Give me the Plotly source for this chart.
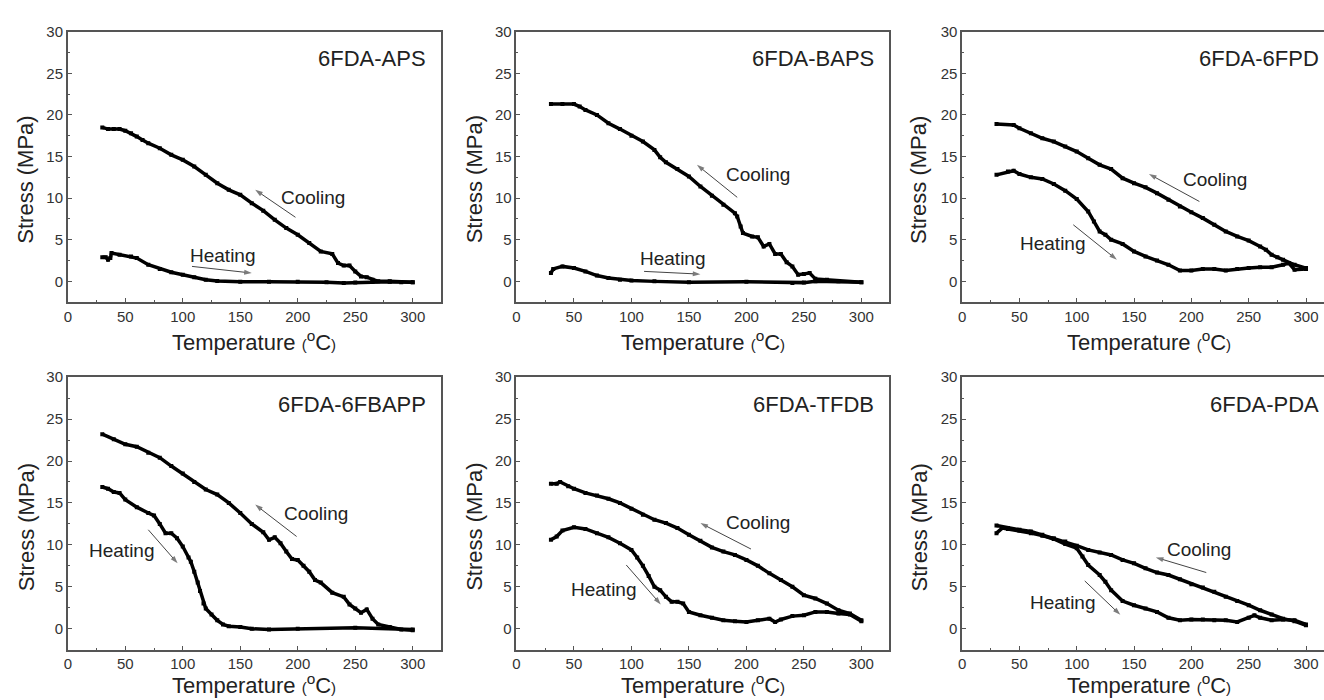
import plotly.graph_objects as go

# ---------------- data ----------------
APS_cool_T = [30, 35, 40, 45, 50, 55, 60, 65, 70, 80, 90, 100, 110, 120, 130, 140, 150, 160, 170, 180, 190, 200, 210, 220, 230, 235, 240, 245, 250, 255, 260, 265, 270, 280, 290, 300]
APS_cool_S = [18.5, 18.3, 18.3, 18.3, 18.1, 17.8, 17.4, 17.0, 16.6, 16.0, 15.2, 14.6, 13.8, 12.8, 11.8, 11.0, 10.4, 9.4, 8.5, 7.4, 6.4, 5.6, 4.6, 3.6, 3.3, 2.2, 1.9, 1.9, 1.2, 0.6, 0.5, 0.2, 0.0, 0.0, -0.1, -0.1]
APS_heat_T = [30, 33, 35, 37, 38, 45, 55, 60, 70, 80, 90, 100, 110, 120, 130, 150, 175, 200, 225, 240, 250, 265, 280, 300]
APS_heat_S = [2.9, 2.9, 2.6, 2.8, 3.4, 3.2, 3.0, 2.8, 2.0, 1.5, 1.1, 0.8, 0.5, 0.2, 0.05, -0.05, -0.05, -0.05, -0.1, -0.2, -0.15, -0.05, -0.05, -0.1]

BAPS_cool_T = [30, 40, 50, 55, 60, 70, 80, 90, 100, 110, 120, 125, 130, 140, 150, 160, 170, 180, 190, 192, 195, 197, 205, 210, 215, 220, 225, 230, 235, 240, 245, 250, 255, 260, 270, 280, 300]
BAPS_cool_S = [21.3, 21.3, 21.3, 21.0, 20.6, 20.0, 19.0, 18.3, 17.5, 16.8, 15.8, 14.9, 14.3, 13.5, 12.6, 11.4, 10.3, 9.2, 8.2, 7.8, 6.6, 5.8, 5.4, 5.3, 4.2, 4.5, 3.3, 3.3, 2.3, 1.8, 0.8, 0.9, 1.0, 0.3, 0.2, 0.0, -0.1]
BAPS_heat_T = [30, 32, 40, 50, 60, 70, 80, 90, 100, 120, 150, 200, 240, 250, 260, 300]
BAPS_heat_S = [1.0, 1.5, 1.8, 1.6, 1.2, 0.7, 0.4, 0.2, 0.1, 0.0, -0.1, -0.05, -0.2, -0.15, 0.0, -0.1]

FPD_cool_T = [30, 45, 50, 60, 70, 80, 90, 100, 110, 120, 130, 140, 150, 160, 170, 180, 190, 200, 210, 220, 230, 240, 250, 260, 265, 270, 275, 280, 290, 300]
FPD_cool_S = [18.9, 18.8, 18.4, 17.8, 17.2, 16.8, 16.2, 15.6, 14.8, 14.0, 13.5, 12.4, 11.8, 11.3, 10.6, 9.8, 9.0, 8.3, 7.6, 6.8, 6.0, 5.4, 4.9, 4.2, 3.8, 3.2, 2.9, 2.6, 2.0, 1.6]
FPD_heat_T = [30, 40, 45, 50, 60, 70, 80, 90, 100, 110, 115, 120, 125, 130, 140, 150, 160, 170, 180, 190, 200, 210, 220, 230, 240, 250, 260, 270, 280, 285, 290, 300]
FPD_heat_S = [12.8, 13.2, 13.3, 12.9, 12.5, 12.3, 11.7, 10.9, 9.9, 8.4, 7.2, 6.0, 5.6, 5.0, 4.5, 3.6, 3.0, 2.5, 2.0, 1.3, 1.3, 1.5, 1.5, 1.3, 1.5, 1.6, 1.7, 1.7, 2.0, 2.2, 1.4, 1.5]

FBAPP_cool_T = [30, 40, 50, 60, 70, 80, 90, 100, 110, 120, 130, 140, 150, 160, 170, 175, 180, 185, 190, 195, 200, 205, 210, 215, 220, 230, 240, 245, 250, 255, 260, 265, 270, 280, 290, 300]
FBAPP_cool_S = [23.2, 22.6, 22.0, 21.7, 21.0, 20.4, 19.4, 18.5, 17.5, 16.6, 16.0, 15.0, 13.8, 12.5, 11.5, 10.6, 10.9, 10.2, 9.2, 8.3, 8.2, 7.5, 6.8, 5.8, 5.5, 4.3, 3.8, 2.9, 2.4, 1.9, 2.3, 1.2, 0.5, 0.2, -0.1, -0.2]
FBAPP_heat_T = [30, 35, 40, 45, 50, 60, 70, 75, 80, 85, 90, 95, 100, 105, 107, 110, 113, 115, 118, 120, 125, 130, 135, 140, 150, 160, 175, 200, 250, 300]
FBAPP_heat_S = [16.9, 16.7, 16.3, 16.2, 15.4, 14.5, 13.8, 13.5, 12.5, 11.4, 11.4, 10.8, 9.8, 8.5, 8.0, 6.8, 5.5, 4.5, 3.0, 2.4, 1.7, 1.0, 0.5, 0.3, 0.2, 0.0, -0.1, 0.0, 0.1, -0.1]

TFDB_cool_T = [30, 35, 38, 45, 50, 60, 70, 80, 90, 100, 110, 120, 130, 140, 150, 160, 170, 180, 190, 200, 210, 220, 230, 240, 250, 260, 270, 280, 290, 300]
TFDB_cool_S = [17.3, 17.3, 17.5, 17.0, 16.7, 16.2, 15.9, 15.5, 15.0, 14.3, 13.6, 13.0, 12.6, 12.0, 11.2, 10.5, 9.7, 9.2, 8.8, 8.2, 7.5, 6.6, 5.8, 5.0, 4.0, 3.6, 3.0, 2.2, 1.8, 1.0]
TFDB_heat_T = [30, 35, 40, 50, 60, 70, 80, 90, 100, 105, 110, 115, 120, 125, 130, 135, 140, 145, 150, 160, 170, 180, 190, 200, 210, 220, 225, 230, 240, 250, 260, 270, 280, 290, 300]
TFDB_heat_S = [10.6, 11.0, 11.7, 12.1, 11.9, 11.4, 10.9, 10.2, 9.4, 8.5, 7.5, 6.3, 5.0, 4.6, 3.8, 3.2, 3.2, 3.0, 2.0, 1.6, 1.3, 1.0, 0.9, 0.8, 1.0, 1.2, 0.8, 1.1, 1.5, 1.6, 2.0, 2.0, 1.8, 1.7, 0.9]

PDA_cool_T = [30, 40, 50, 60, 70, 80, 90, 100, 110, 120, 130, 140, 150, 160, 170, 180, 190, 200, 210, 220, 230, 240, 250, 260, 270, 280, 290, 300]
PDA_cool_S = [12.3, 12.0, 11.8, 11.6, 11.2, 10.8, 10.4, 9.9, 9.4, 9.1, 8.8, 8.2, 7.8, 7.2, 6.7, 6.4, 5.9, 5.3, 4.9, 4.4, 3.8, 3.3, 2.8, 2.2, 1.7, 1.2, 0.9, 0.4]
PDA_heat_T = [30, 35, 40, 50, 60, 70, 80, 90, 100, 105, 110, 120, 125, 130, 140, 150, 160, 170, 180, 190, 200, 210, 220, 230, 240, 250, 255, 260, 270, 280, 290, 300]
PDA_heat_S = [11.4, 12.0, 11.9, 11.7, 11.4, 11.1, 10.7, 10.1, 9.6, 8.6, 7.6, 6.4, 5.6, 4.6, 3.3, 2.8, 2.4, 2.0, 1.3, 1.0, 1.1, 1.1, 1.0, 1.0, 0.8, 1.3, 1.6, 1.3, 1.0, 1.1, 1.0, 0.5]

panel_names = ["6FDA-APS", "6FDA-BAPS", "6FDA-6FPD", "6FDA-6FBAPP", "6FDA-TFDB", "6FDA-PDA"]

# arrows: (tail_T, tail_S, head_T, head_S); labels: (T, S)
cool_arrows = [(198, 7.7, 163, 11.0), (192, 10.1, 157, 14.0), (207, 9.6, 163, 12.9),
               (199, 11.0, 163, 14.8), (204, 9.5, 160, 12.6), (213, 6.7, 169, 8.5)]
cool_labels = [(213, 10.1), (210, 12.8), (221, 12.2), (216, 13.7), (210, 12.65), (207, 9.4)]
heat_arrows = [(108, 1.8, 160, 1.0), (111, 1.2, 160, 0.87), (97, 6.8, 135, 2.6),
               (70, 11.8, 95.5, 7.8), (95.5, 7.6, 125.5, 2.9), (107, 5.7, 138, 1.65)]
heat_labels = [(135, 3.1), (136.5, 2.7), (79, 4.5), (47, 9.3), (75.8, 4.7), (88, 3.1)]

series = [
    (APS_cool_T, APS_cool_S, APS_heat_T, APS_heat_S),
    (BAPS_cool_T, BAPS_cool_S, BAPS_heat_T, BAPS_heat_S),
    (FPD_cool_T, FPD_cool_S, FPD_heat_T, FPD_heat_S),
    (FBAPP_cool_T, FBAPP_cool_S, FBAPP_heat_T, FBAPP_heat_S),
    (TFDB_cool_T, TFDB_cool_S, TFDB_heat_T, TFDB_heat_S),
    (PDA_cool_T, PDA_cool_S, PDA_heat_T, PDA_heat_S),
]

# ---------------- layout geometry ----------------
W, H = 1324, 700
col_px = [(64, 438), (514, 888), (961, 1324)]
col_xmax = [324.3, 324.3, 315.7]
row_px = [(23, 297), (373, 649)]
ytitle_x = [22, 472, 918]
ytitle_y = [173, 525]
xtitle_cx = [251, 701, 1148]

FONT = "Liberation Sans, Arial, sans-serif"
AX = "#555555"
TXT = "#333333"
XTITLE = "Temperature <span style='font-size:15px'>(</span><sup>o</sup>C<span style='font-size:15px'>)</span>"

fig = go.Figure()
layout = dict(width=W, height=H, margin=dict(l=0, r=0, t=0, b=0),
              paper_bgcolor="white", plot_bgcolor="white", showlegend=False,
              font=dict(family=FONT, color=TXT))
annotations = []

for i in range(6):
    r, c = divmod(i, 3)
    k = i + 1
    xn = "x" if k == 1 else f"x{k}"
    yn = "y" if k == 1 else f"y{k}"
    xkey = "xaxis" if k == 1 else f"xaxis{k}"
    ykey = "yaxis" if k == 1 else f"yaxis{k}"
    cT, cS, hT, hS = series[i]
    for T, S in ((cT, cS), (hT, hS)):
        fig.add_trace(go.Scatter(x=T, y=S, xaxis=xn, yaxis=yn, mode="lines+markers",
                                 line=dict(color="black", width=3.5),
                                 marker=dict(symbol="square", size=4, color="black"),
                                 hoverinfo="skip"))
    # direction arrows (thin line with arrow-head marker at the head end)
    for (tx, ty, hx, hy) in (cool_arrows[i], heat_arrows[i]):
        fig.add_trace(go.Scatter(x=[tx, hx], y=[ty, hy], xaxis=xn, yaxis=yn, mode="lines+markers",
                                 line=dict(color="#444444", width=1),
                                 marker=dict(symbol="arrow", size=[0, 8], angleref="previous",
                                             color="#444444", line=dict(width=0)),
                                 hoverinfo="skip"))
    x0, x1 = col_px[c]
    ytop, ybot = row_px[r]
    layout[xkey] = dict(domain=[x0 / W, x1 / W], range=[0, col_xmax[c]], anchor=yn,
                        showline=True, linecolor=AX, linewidth=1.5, mirror=True,
                        ticks="inside", ticklen=4, tickwidth=1, tickcolor=AX,
                        dtick=50, tick0=0, showgrid=False, zeroline=False,
                        tickfont=dict(size=15, color=TXT, family=FONT),
                        minor=dict(ticks="inside", ticklen=2, tickcolor=AX, dtick=25, tick0=0))
    layout[ykey] = dict(domain=[1 - ybot / H, 1 - ytop / H], range=[-2.5, 30], anchor=xn,
                        showline=True, linecolor=AX, linewidth=1.5, mirror=(c != 2),
                        ticks="inside", ticklen=4, tickwidth=1, tickcolor=AX,
                        dtick=5, tick0=0, showgrid=False, zeroline=False,
                        tickfont=dict(size=15, color=TXT, family=FONT),
                        minor=dict(ticks="inside", ticklen=2, tickcolor=AX, dtick=2.5, tick0=0))
    annotations.append(dict(x=313, y=26.8, xref=xn, yref=yn, text=panel_names[i],
                            showarrow=False, xanchor="right", yanchor="middle",
                            font=dict(size=22, color="#222222", family=FONT)))
    annotations.append(dict(x=cool_labels[i][0], y=cool_labels[i][1], xref=xn, yref=yn,
                            text="Cooling", showarrow=False,
                            font=dict(size=19, color="#222222", family=FONT)))
    annotations.append(dict(x=heat_labels[i][0], y=heat_labels[i][1], xref=xn, yref=yn,
                            text="Heating", showarrow=False,
                            font=dict(size=19, color="#222222", family=FONT)))
    if r == 0:
        annotations.append(dict(x=xtitle_cx[c] / W, y=1 - 336 / H, xref="paper", yref="paper",
                                text=XTITLE, showarrow=False, xanchor="center", yanchor="middle",
                                font=dict(size=22, color="#222222", family=FONT)))
    else:
        annotations.append(dict(x=xtitle_cx[c] / W, y=0, xref="paper", yref="paper",
                                text=XTITLE, showarrow=False, xanchor="center", yanchor="bottom",
                                font=dict(size=22, color="#222222", family=FONT)))
    annotations.append(dict(x=ytitle_x[c] / W, y=1 - ytitle_y[r] / H, xref="paper", yref="paper",
                            text="Stress (MPa)", textangle=-90,
                            showarrow=False, xanchor="center", yanchor="middle",
                            font=dict(size=22, color="#222222", family=FONT)))

layout["annotations"] = annotations
fig.update_layout(**layout)
fig.write_html("out.html", config={"displayModeBar": False},
               post_script="document.body.style.margin='0';document.body.style.padding='0';")
